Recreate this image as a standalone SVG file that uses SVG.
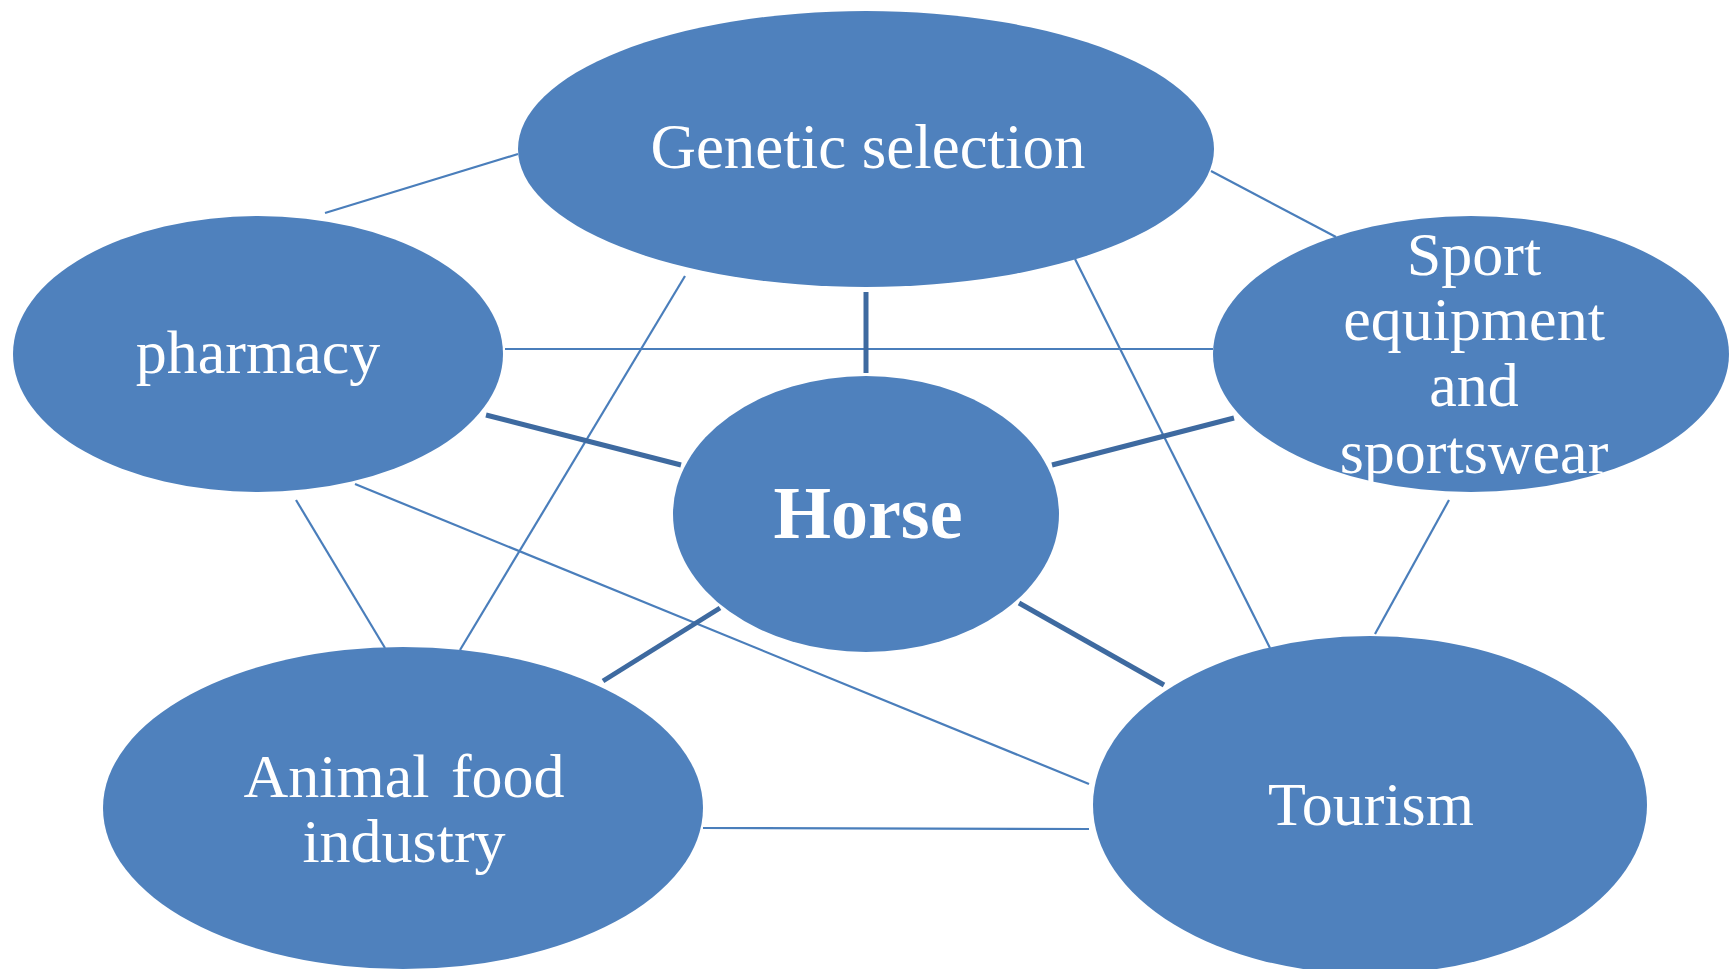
<svg xmlns="http://www.w3.org/2000/svg" width="1729" height="969" viewBox="0 0 1729 969">
<style>
.node{fill:#4f81bd}
.thin{stroke:#4a7ebb;stroke-width:2.2;fill:none}
.thick{stroke:#3e6aa0;stroke-width:5;fill:none}
.lbl{font-family:"Liberation Serif","Times New Roman",serif;font-size:62px;fill:#ffffff;text-anchor:middle}
.bold{font-weight:bold;font-size:74px}
</style>
<rect width="1729" height="969" fill="#ffffff"/>
<g id="connectors">
<line class="thin" x1="325" y1="213" x2="518" y2="154"/>
<line class="thin" x1="1211" y1="171" x2="1336" y2="237"/>
<line class="thin" x1="685" y1="276" x2="460" y2="650"/>
<line class="thin" x1="1075" y1="259" x2="1270" y2="648"/>
<line class="thin" x1="505" y1="349" x2="1213" y2="349"/>
<line class="thin" x1="296" y1="500" x2="385" y2="648"/>
<line class="thin" x1="355" y1="484" x2="1089" y2="784"/>
<line class="thin" x1="1449" y1="500" x2="1375" y2="634"/>
<line class="thin" x1="703" y1="828" x2="1089" y2="829"/>
<line class="thick" x1="866" y1="292" x2="866" y2="373"/>
<line class="thick" x1="486" y1="415" x2="681" y2="465"/>
<line class="thick" x1="1052" y1="465" x2="1234" y2="418"/>
<line class="thick" x1="603" y1="681" x2="720" y2="608"/>
<line class="thick" x1="1019" y1="603" x2="1164" y2="685"/>
</g>
<g id="genetic">
<ellipse class="node" cx="866" cy="149" rx="348" ry="138"/>
<text class="lbl" x="868" y="168" font-size="64" textLength="435" lengthAdjust="spacingAndGlyphs" style="font-size:64px">Genetic selection</text>
</g>
<g id="pharmacy">
<ellipse class="node" cx="258" cy="354" rx="245" ry="138"/>
<text class="lbl" x="258" y="373">pharmacy</text>
</g>
<g id="sport">
<ellipse class="node" cx="1471" cy="354" rx="258" ry="138"/>
<text class="lbl" x="1474" y="275">Sport</text>
<text class="lbl" x="1474" y="340">equipment</text>
<text class="lbl" x="1474" y="406">and</text>
<text class="lbl" x="1474" y="473">sportswear</text>
</g>
<g id="horse">
<ellipse class="node" cx="866" cy="514" rx="193" ry="138"/>
<text class="lbl bold" x="868" y="538">Horse</text>
</g>
<g id="animal">
<ellipse class="node" cx="403" cy="808" rx="300" ry="161"/>
<text class="lbl" x="404" y="797" word-spacing="6">Animal food</text>
<text class="lbl" x="404" y="862">industry</text>
</g>
<g id="tourism">
<ellipse class="node" cx="1370" cy="805" rx="277" ry="169"/>
<text class="lbl" x="1371" y="825">Tourism</text>
</g>
</svg>
